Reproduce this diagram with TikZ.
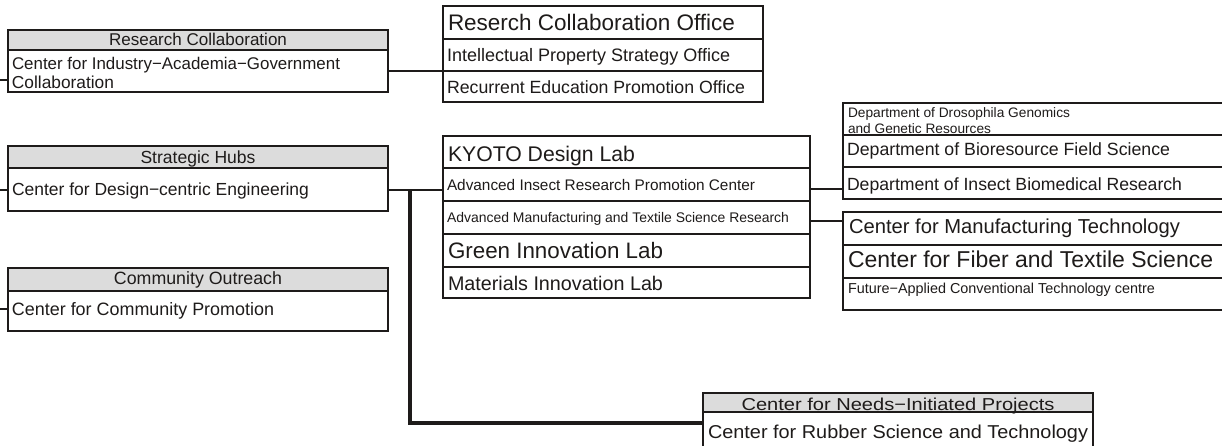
\documentclass[tikz,border=0pt]{standalone}
\usepackage{fontspec}
\setmainfont{Liberation Sans}
\usepackage{graphicx}
\newcommand{\fw}[2]{\resizebox{#1pt}{!}{#2}}
\newcommand{\fwh}[3]{\resizebox{#1pt}{#2pt}{#3}}
\definecolor{ink}{HTML}{1E1B1A}
\definecolor{hdr}{HTML}{DCDCDC}
\begin{document}
\begin{tikzpicture}[x=1pt,y=-1pt,
  cell/.style={draw=ink, line width=2.6pt, fill=white, anchor=north west, inner sep=0pt, outer sep=0pt},
  hcell/.style={cell, fill=hdr},
  txt/.style={inner sep=0pt, outer sep=0pt, text=ink},
  conn/.style={draw=ink, line width=2.6pt},
  connb/.style={draw=ink, line width=3.4pt}]
\useasboundingbox (0,0) rectangle (1222,445);
\clip (0,0) rectangle (1222,445);
% ---- left column
\node[hcell, minimum width=380pt, minimum height=20pt] (rch) at (8,30) {};
\node[cell, minimum width=380pt, minimum height=42pt] (rcb) at (8,50) {};
\node[hcell, minimum width=380pt, minimum height=22pt] (shh) at (8,146) {};
\node[cell, minimum width=380pt, minimum height=43pt] (shb) at (8,168) {};
\node[hcell, minimum width=380pt, minimum height=23pt] (coh) at (8,268) {};
\node[cell, minimum width=380pt, minimum height=40pt] (cob) at (8,291) {};
% ---- offices
\node[cell, minimum width=320pt, minimum height=33pt] (of1) at (443,6) {};
\node[cell, minimum width=320pt, minimum height=32pt] (of2) at (443,39) {};
\node[cell, minimum width=320pt, minimum height=31pt] (of3) at (443,71) {};
% ---- middle group
\node[cell, minimum width=367pt, minimum height=32pt] (m1) at (443,136) {};
\node[cell, minimum width=367pt, minimum height=33pt] (m2) at (443,168) {};
\node[cell, minimum width=367pt, minimum height=33pt] (m3) at (443,201) {};
\node[cell, minimum width=367pt, minimum height=33pt] (m4) at (443,234) {};
\node[cell, minimum width=367pt, minimum height=31pt] (m5) at (443,267) {};
% ---- right groups
\node[cell, minimum width=383pt, minimum height=32pt] (r1) at (843,103) {};
\node[cell, minimum width=383pt, minimum height=32pt] (r2) at (843,135) {};
\node[cell, minimum width=383pt, minimum height=32pt] (r3) at (843,167) {};
\node[cell, minimum width=383pt, minimum height=33pt] (s1) at (843,212) {};
\node[cell, minimum width=383pt, minimum height=33pt] (s2) at (843,245) {};
\node[cell, minimum width=383pt, minimum height=32pt] (s3) at (843,278) {};
% ---- bottom box
\node[hcell, minimum width=390pt, minimum height=19pt] (bh) at (703,393) {};
\node[cell, minimum width=390pt, minimum height=38pt] (bb) at (703,412) {};
% ---- texts
\node[txt, anchor=base] (t-rch) at (198,45) {\fw{178}{Research Collaboration}};
\node[txt, anchor=base west] (t-rcb1) at (12,69) {\fw{328}{Center for Industry−Academia−Government}};
\node[txt, anchor=base west] (t-rcb2) at (12,88) {\fw{102}{Collaboration}};
\node[txt, anchor=base] (t-shh) at (198,163) {\fw{115}{Strategic Hubs}};
\node[txt, anchor=base west] (t-shb) at (12,195) {\fw{297}{Center for Design−centric Engineering}};
\node[txt, anchor=base] (t-coh) at (198,284) {\fw{168}{Community Outreach}};
\node[txt, anchor=base west] (t-cob) at (12,315) {\fw{262}{Center for Community Promotion}};
\node[txt, anchor=base west] (t-of1) at (448,30) {\fw{287}{Reserch Collaboration Office}};
\node[txt, anchor=base west] (t-of2) at (447,61) {\fw{283}{Intellectual Property Strategy Office}};
\node[txt, anchor=base west] (t-of3) at (447,93) {\fw{298}{Recurrent Education Promotion Office}};
\node[txt, anchor=base west] (t-m1) at (448,161) {\fw{187}{KYOTO Design Lab}};
\node[txt, anchor=base west] (t-m2) at (447,190) {\fw{308}{Advanced Insect Research Promotion Center}};
\node[txt, anchor=base west] (t-m3) at (447,222) {\fw{342}{Advanced Manufacturing and Textile Science Research}};
\node[txt, anchor=base west] (t-m4) at (448,258) {\fw{215}{Green Innovation Lab}};
\node[txt, anchor=base west] (t-m5) at (448,290) {\fw{215}{Materials Innovation Lab}};
\node[txt, anchor=base west] (t-r1a) at (848,117) {\fw{222}{Department of Drosophila Genomics}};
\node[txt, anchor=base west] (t-r1b) at (848,133) {\fw{143}{and Genetic Resources}};
\node[txt, anchor=base west] (t-r2) at (847,155) {\fw{323}{Department of Bioresource Field Science}};
\node[txt, anchor=base west] (t-r3) at (847,190) {\fw{335}{Department of Insect Biomedical Research}};
\node[txt, anchor=base west] (t-s1) at (849,233) {\fw{331}{Center for Manufacturing Technology}};
\node[txt, anchor=base west] (t-s2) at (848,267) {\fw{365}{Center for Fiber and Textile Science}};
\node[txt, anchor=base west] (t-s3) at (848,293) {\fw{307}{Future−Applied Conventional Technology centre}};
\node[txt, anchor=base] (t-bh) at (898,410) {\fwh{313}{12.5}{Center for Needs−Initiated Projects}};
\node[txt, anchor=base west] (t-bb) at (708,438) {\fwh{380}{13.5}{Center for Rubber Science and Technology}};
% ---- connectors
\coordinate (l1) at (0,80);
\coordinate (l2) at (0,190);
\coordinate (l3) at (0,309);
\coordinate (j1) at (410,190);
\coordinate (j2) at (410,423);
\coordinate (k1) at (810,189);
\coordinate (k2) at (810,221);
\draw[conn] (l1) -- (l1 -| rcb.west);
\draw[conn] (l2) -- (l2 -| shb.west);
\draw[conn] (l3) -- (l3 -| cob.west);
\draw[conn] (rcb.east |- of3.north west) -- (of3.north west);
\draw[conn] (j1 -| shb.east) -- (j1 -| m2.west);
\draw[connb] (j1) |- (j2 -| bb.west);
\draw[conn] (k1 -| m2.east) -- (k1 -| r3.west);
\draw[conn] (k2 -| m3.east) -- (k2 -| s1.west);
\end{tikzpicture}
\end{document}
